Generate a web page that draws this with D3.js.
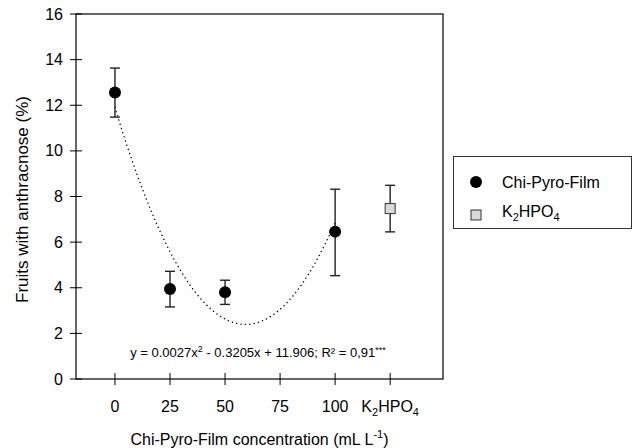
<!DOCTYPE html>
<html>
<head>
<meta charset="utf-8">
<script src="https://cdn.jsdelivr.net/npm/d3@7"></script>
<style>
    body { margin: 0; background: #fff; }
    text { font-family: 'Liberation Sans', Arial, sans-serif; fill: #000; }
</style>
</head>
<body>
<svg id="chart" width="633" height="448"></svg>
<script>
// data
const doses = [0, 25, 50, 100];
const means = [12.56, 3.95, 3.80, 6.46];
const upper = [13.63, 4.72, 4.33, 8.32];
const lower = [11.48, 3.16, 3.27, 4.53];

const refPos = 125; // K2HPO4 sits one step right of 100
const refMean = 7.47;
const refUpper = 8.49;
const refLower = 6.45;

const xTicks = [0, 25, 50, 75, 100, 125];
const xTickLabels = ['0', '25', '50', '75', '100', 'K2HPO4'];
const yTicks = [0, 2, 4, 6, 8, 10, 12, 14, 16];

// quadratic fit printed on the chart: c0 + c1 x + c2 x^2
const fitCoef = [11.906, -0.3205, 0.0027];

const svg = d3.select('#chart');

const frame = { left: 76, right: 443, top: 14, bottom: 379 };

const x = d3.scaleLinear().domain([-17.7, 149]).range([frame.left, frame.right]);
const y = d3.scaleLinear().domain([0, 16]).range([frame.bottom, frame.top]);

/**
 * K2HPO4 with a subscript, used for tick label and legend
 */
const writeK2HPO4 = (t) => {
    t.append('tspan').text('K');
    t.append('tspan').attr('font-size', '11px').attr('dy', 4).text('2');
    t.append('tspan').attr('dy', -4).text('HPO');
    t.append('tspan').attr('font-size', '11px').attr('dy', 4).text('4');
};

// frame
svg.append('rect')
    .attr('x', frame.left)
    .attr('y', frame.top)
    .attr('width', frame.right - frame.left)
    .attr('height', frame.bottom - frame.top)
    .attr('fill', 'none')
    .attr('stroke', '#000')
    .attr('stroke-width', 1.2);

// y axis ticks crossing the frame
const yAxis = svg.append('g');
yAxis.selectAll('line')
    .data(yTicks)
    .enter()
    .append('line')
    .attr('x1', frame.left - 6)
    .attr('x2', frame.left + 6)
    .attr('y1', d => y(d))
    .attr('y2', d => y(d))
    .attr('stroke', '#000')
    .attr('stroke-width', 1);
yAxis.selectAll('text')
    .data(yTicks)
    .enter()
    .append('text')
    .attr('x', frame.left - 13)
    .attr('y', d => y(d))
    .attr('dy', '0.35em')
    .attr('text-anchor', 'end')
    .attr('font-size', '16px')
    .text(d => d);

// x axis ticks
const xAxis = svg.append('g');
xAxis.selectAll('line')
    .data(xTicks)
    .enter()
    .append('line')
    .attr('x1', d => x(d))
    .attr('x2', d => x(d))
    .attr('y1', frame.bottom - 6)
    .attr('y2', frame.bottom + 6)
    .attr('stroke', '#000')
    .attr('stroke-width', 1);
xAxis.selectAll('text')
    .data(xTicks)
    .enter()
    .append('text')
    .attr('x', d => x(d))
    .attr('y', 412)
    .attr('text-anchor', 'middle')
    .attr('font-size', '16px')
    .each(function (d, i) {
        const t = d3.select(this);
        if (xTickLabels[i] === 'K2HPO4') {
            writeK2HPO4(t);
        } else {
            t.text(xTickLabels[i]);
        }
    });

// axis titles
const xTitle = svg.append('text')
    .attr('x', (frame.left + frame.right) / 2)
    .attr('y', 445)
    .attr('text-anchor', 'middle')
    .attr('font-size', '16px');
xTitle.append('tspan').text('Chi-Pyro-Film concentration (mL L');
xTitle.append('tspan').attr('font-size', '11px').attr('dy', -7).text('-1');
xTitle.append('tspan').attr('dy', 7).text(')');

svg.append('text')
    .attr('transform', `translate(28,${(frame.top + frame.bottom) / 2 + 3}) rotate(-90)`)
    .attr('text-anchor', 'middle')
    .attr('font-size', '17px')
    .text('Fruits with anthracnose (%)');

// fitted curve
const fitX = d3.range(0, 100.01, 1);
const fit = v => fitCoef[0] + fitCoef[1] * v + fitCoef[2] * v * v;
svg.append('path')
    .datum(fitX)
    .attr('d', d3.line().x(d => x(d)).y(d => y(fit(d))))
    .attr('fill', 'none')
    .attr('stroke', '#000')
    .attr('stroke-width', 1.4)
    .attr('stroke-linecap', 'round')
    .attr('stroke-dasharray', '0.1 4.3');

// equation
const eq = svg.append('text')
    .attr('x', 258)
    .attr('y', 357)
    .attr('text-anchor', 'middle')
    .attr('font-size', '13px');
eq.append('tspan').text('y = 0.0027x');
eq.append('tspan').attr('font-size', '9px').attr('dy', -5).text('2');
eq.append('tspan').attr('dy', 5).text(' - 0.3205x + 11.906; R² = 0,91');
eq.append('tspan').attr('font-size', '9px').attr('dy', -4).text('***');

// error bars
const errBar = (g, px, lo, hi) => {
    g.append('line')
        .attr('x1', x(px)).attr('x2', x(px))
        .attr('y1', y(lo)).attr('y2', y(hi));
    [lo, hi].forEach(v => {
        g.append('line')
            .attr('x1', x(px) - 5).attr('x2', x(px) + 5)
            .attr('y1', y(v)).attr('y2', y(v));
    });
};

const bars = svg.append('g')
    .attr('stroke', '#222')
    .attr('stroke-width', 1.4);
doses.forEach((d, i) => errBar(bars, d, lower[i], upper[i]));
errBar(bars, refPos, refLower, refUpper);

// points
svg.append('g')
    .selectAll('circle')
    .data(doses)
    .enter()
    .append('circle')
    .attr('cx', d => x(d))
    .attr('cy', (d, i) => y(means[i]))
    .attr('r', 6)
    .attr('fill', '#000');

svg.append('rect')
    .attr('x', x(refPos) - 5)
    .attr('y', y(refMean) - 5)
    .attr('width', 10)
    .attr('height', 10)
    .attr('fill', '#d9d9d9')
    .attr('stroke', '#333')
    .attr('stroke-width', 1);

// legend
const legend = svg.append('g');
legend.append('rect')
    .attr('x', 453.5)
    .attr('y', 156.5)
    .attr('width', 178)
    .attr('height', 72)
    .attr('fill', '#fff')
    .attr('stroke', '#333')
    .attr('stroke-width', 1);
legend.append('circle')
    .attr('cx', 476)
    .attr('cy', 182)
    .attr('r', 6)
    .attr('fill', '#000');
legend.append('text')
    .attr('x', 502)
    .attr('y', 182)
    .attr('dy', '0.35em')
    .attr('font-size', '16px')
    .text('Chi-Pyro-Film');
legend.append('rect')
    .attr('x', 471)
    .attr('y', 210)
    .attr('width', 10)
    .attr('height', 10)
    .attr('fill', '#d9d9d9')
    .attr('stroke', '#333')
    .attr('stroke-width', 1);
const legText = legend.append('text')
    .attr('x', 502)
    .attr('y', 217)
    .attr('font-size', '16px');
writeK2HPO4(legText);
</script>
</body>
</html>
